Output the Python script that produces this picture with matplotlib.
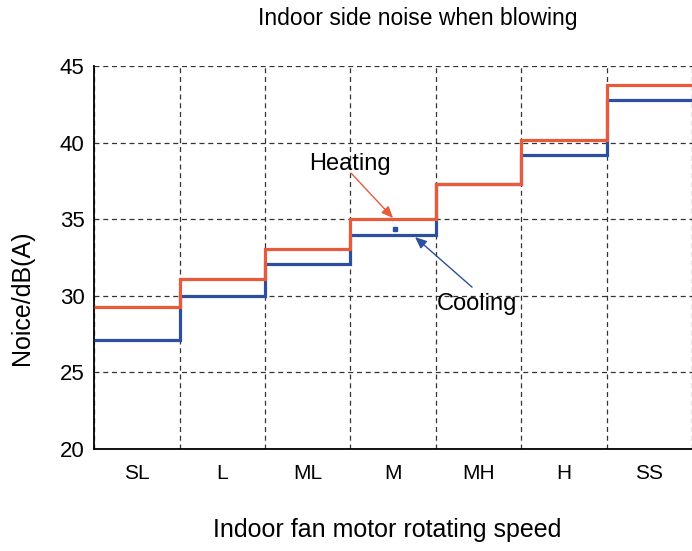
import matplotlib.pyplot as plt
import numpy as np

plt.rcParams['font.family'] = ['Liberation Sans', 'DejaVu Sans']

# Noise levels per indoor fan speed
speeds = ["SL", "L", "ML", "M", "MH", "H", "SS"]
heating = [29.3, 31.1, 33.05, 35.0, 37.3, 40.2, 43.8]
cooling = [27.1, 30.0, 32.1, 34.0, 37.3, 39.2, 42.8]
y_ticks = [20, 25, 30, 35, 40, 45]

edges = np.arange(len(speeds) + 1)
centers = edges[:-1] + 0.5

red = "#e85a3a"
blue = "#2c4f9e"

fig = plt.figure(figsize=(6.92, 5.51), dpi=100)
ax = fig.add_axes([0.136, 0.185, 0.864, 0.695])

ax.stairs(cooling, edges, color=blue, linewidth=2.3, baseline=None, zorder=3)
ax.stairs(heating, edges, color=red, linewidth=2.3, baseline=None, zorder=4)

ax.set_xlim(0, len(speeds))
ax.set_ylim(20, 45)
ax.set_yticks(y_ticks)
ax.set_xticks(edges)
ax.set_xticklabels([])
ax.set_xticks(centers, minor=True)
ax.set_xticklabels(speeds, minor=True, fontsize=15)
ax.tick_params(axis="x", which="both", length=0, pad=11)
ax.tick_params(axis="y", length=0, labelsize=16, pad=7)

ax.grid(True, which="major", linestyle=(0, (4, 3)), color="#333333", linewidth=0.9)
for s in ["top", "right"]:
    ax.spines[s].set_visible(False)
ax.spines["left"].set_linewidth(1.3)
ax.spines["bottom"].set_linewidth(1.3)

fig.text(418 / 692, 1 - 18 / 551, "Indoor side noise when blowing",
         fontsize=16.5, ha="center", va="center")
ax.set_xlabel("Indoor fan motor rotating speed", fontsize=18)
ax.xaxis.set_label_coords(0.49, -0.211)
ax.xaxis.label.set_va("center")
ax.set_ylabel("Noice/dB(A)", fontsize=18)
ax.yaxis.set_label_coords(-0.12, 0.394)
ax.yaxis.label.set_va("center")

# annotations
ax.text(3.0, 38.64, "Heating", fontsize=17, ha="center", va="center")
ax.annotate("", xy=(3.50, 35.08), xytext=(3.008, 38.02),
            arrowprops=dict(arrowstyle="-|>,head_length=0.7,head_width=0.3",
                            color=red, lw=1.0, shrinkA=0, shrinkB=0))
ax.text(4.48, 29.47, "Cooling", fontsize=17, ha="center", va="center")
ax.annotate("", xy=(3.757, 33.84), xytext=(4.425, 30.57),
            arrowprops=dict(arrowstyle="-|>,head_length=0.7,head_width=0.3",
                            color=blue, lw=1.0, shrinkA=0, shrinkB=0))
ax.plot([3.52], [34.36], marker="s", markersize=2.2, color=blue, zorder=5)

fig.savefig("out.png", dpi=100)
